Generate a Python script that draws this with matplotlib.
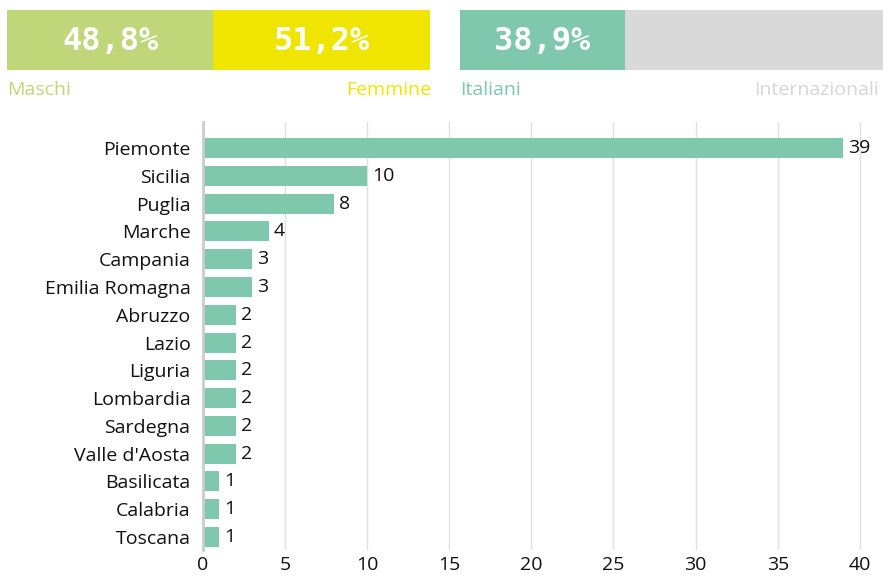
import matplotlib.pyplot as plt
import matplotlib.transforms as mtransforms
import numpy as np

# data
regioni = ['Piemonte', 'Sicilia', 'Puglia', 'Marche', 'Campania', 'Emilia Romagna',
           'Abruzzo', 'Lazio', 'Liguria', 'Lombardia', 'Sardegna', "Valle d'Aosta",
           'Basilicata', 'Calabria', 'Toscana']
valori = [39, 10, 8, 4, 3, 3, 2, 2, 2, 2, 2, 2, 1, 1, 1]
genere_labels = ['Maschi', 'Femmine']
genere_pct = [48.8, 51.2]
origine_labels = ['Italiani', 'Internazionali']
origine_pct = [38.9, 61.1]

teal = '#7fc8ae'
green = '#c0d779'
yellow = '#f0e500'
grey = '#d9d9d9'

plt.rcParams['font.family'] = ['Open Sans', 'DejaVu Sans']

W, H = 883, 577
fig = plt.figure(figsize=(W / 100, H / 100), dpi=100)


def box(x0, y0, x1, y1):
    # pixel box -> figure fraction
    return [x0 / W, 1 - y1 / H, (x1 - x0) / W, (y1 - y0) / H]


def top_bar(rect, pct, labels, colors, lab_colors, show_text, right_end):
    ax = fig.add_axes(rect)
    left = 0
    for p, c, s in zip(pct, colors, show_text):
        ax.barh(0, p, left=left, color=c, height=1)
        if s:
            txt = f'{p:.1f}%'.replace('.', ',')
            ax.text(left + p / 2, -0.03, txt, ha='center', va='center', color='white',
                    fontsize=23, fontweight='bold', family='DejaVu Sans Mono')
        left += p
    ax.set_xlim(0, 100)
    ax.set_ylim(-0.5, 0.5)
    ax.axis('off')
    ax.text(0, -0.83, labels[0], ha='left', va='center', color=lab_colors[0],
            fontsize=14, clip_on=False)
    ax.text(right_end, -0.83, labels[1], ha='right', va='center', color=lab_colors[1],
            fontsize=14, clip_on=False)


top_bar(box(7, 10, 430, 70), genere_pct, genere_labels, [green, yellow],
        [green, yellow], [True, True], 100.2)
top_bar(box(460, 10, 883, 70), origine_pct, origine_labels, [teal, grey],
        [teal, '#d6d6d6'], [True, False], 99.0)

# main bar chart
ax = fig.add_axes(box(203, 122, 868, 550))
y = np.arange(len(regioni))
ax.barh(y, valori, color=teal, height=0.72, zorder=2)
for yi, v in zip(y, valori):
    ax.text(v + 0.3, yi, str(v), va='center', ha='left', fontsize=14, color='#111111')
ax.set_yticks(y)
ax.set_yticklabels(regioni, fontsize=14, color='#111111')
shift = mtransforms.ScaledTranslation(0, -4 / 100, fig.dpi_scale_trans)
for t in ax.get_yticklabels():
    t.set_transform(t.get_transform() + shift)
ax.set_xticks(range(0, 41, 5))
ax.tick_params(axis='x', labelsize=14, colors='#111111', length=0, pad=4)
ax.tick_params(axis='y', length=0, pad=9)
ax.set_xlim(0, 40.5)
ax.set_ylim(14.47, -0.94)
ax.grid(axis='x', color='#e0e0e0', linewidth=1, zorder=0)
for s in ['top', 'right', 'bottom']:
    ax.spines[s].set_visible(False)
ax.spines['left'].set_color('#cccccc')
ax.spines['left'].set_linewidth(2)
ax.set_axisbelow(True)

fig.savefig('out.png', dpi=100)
